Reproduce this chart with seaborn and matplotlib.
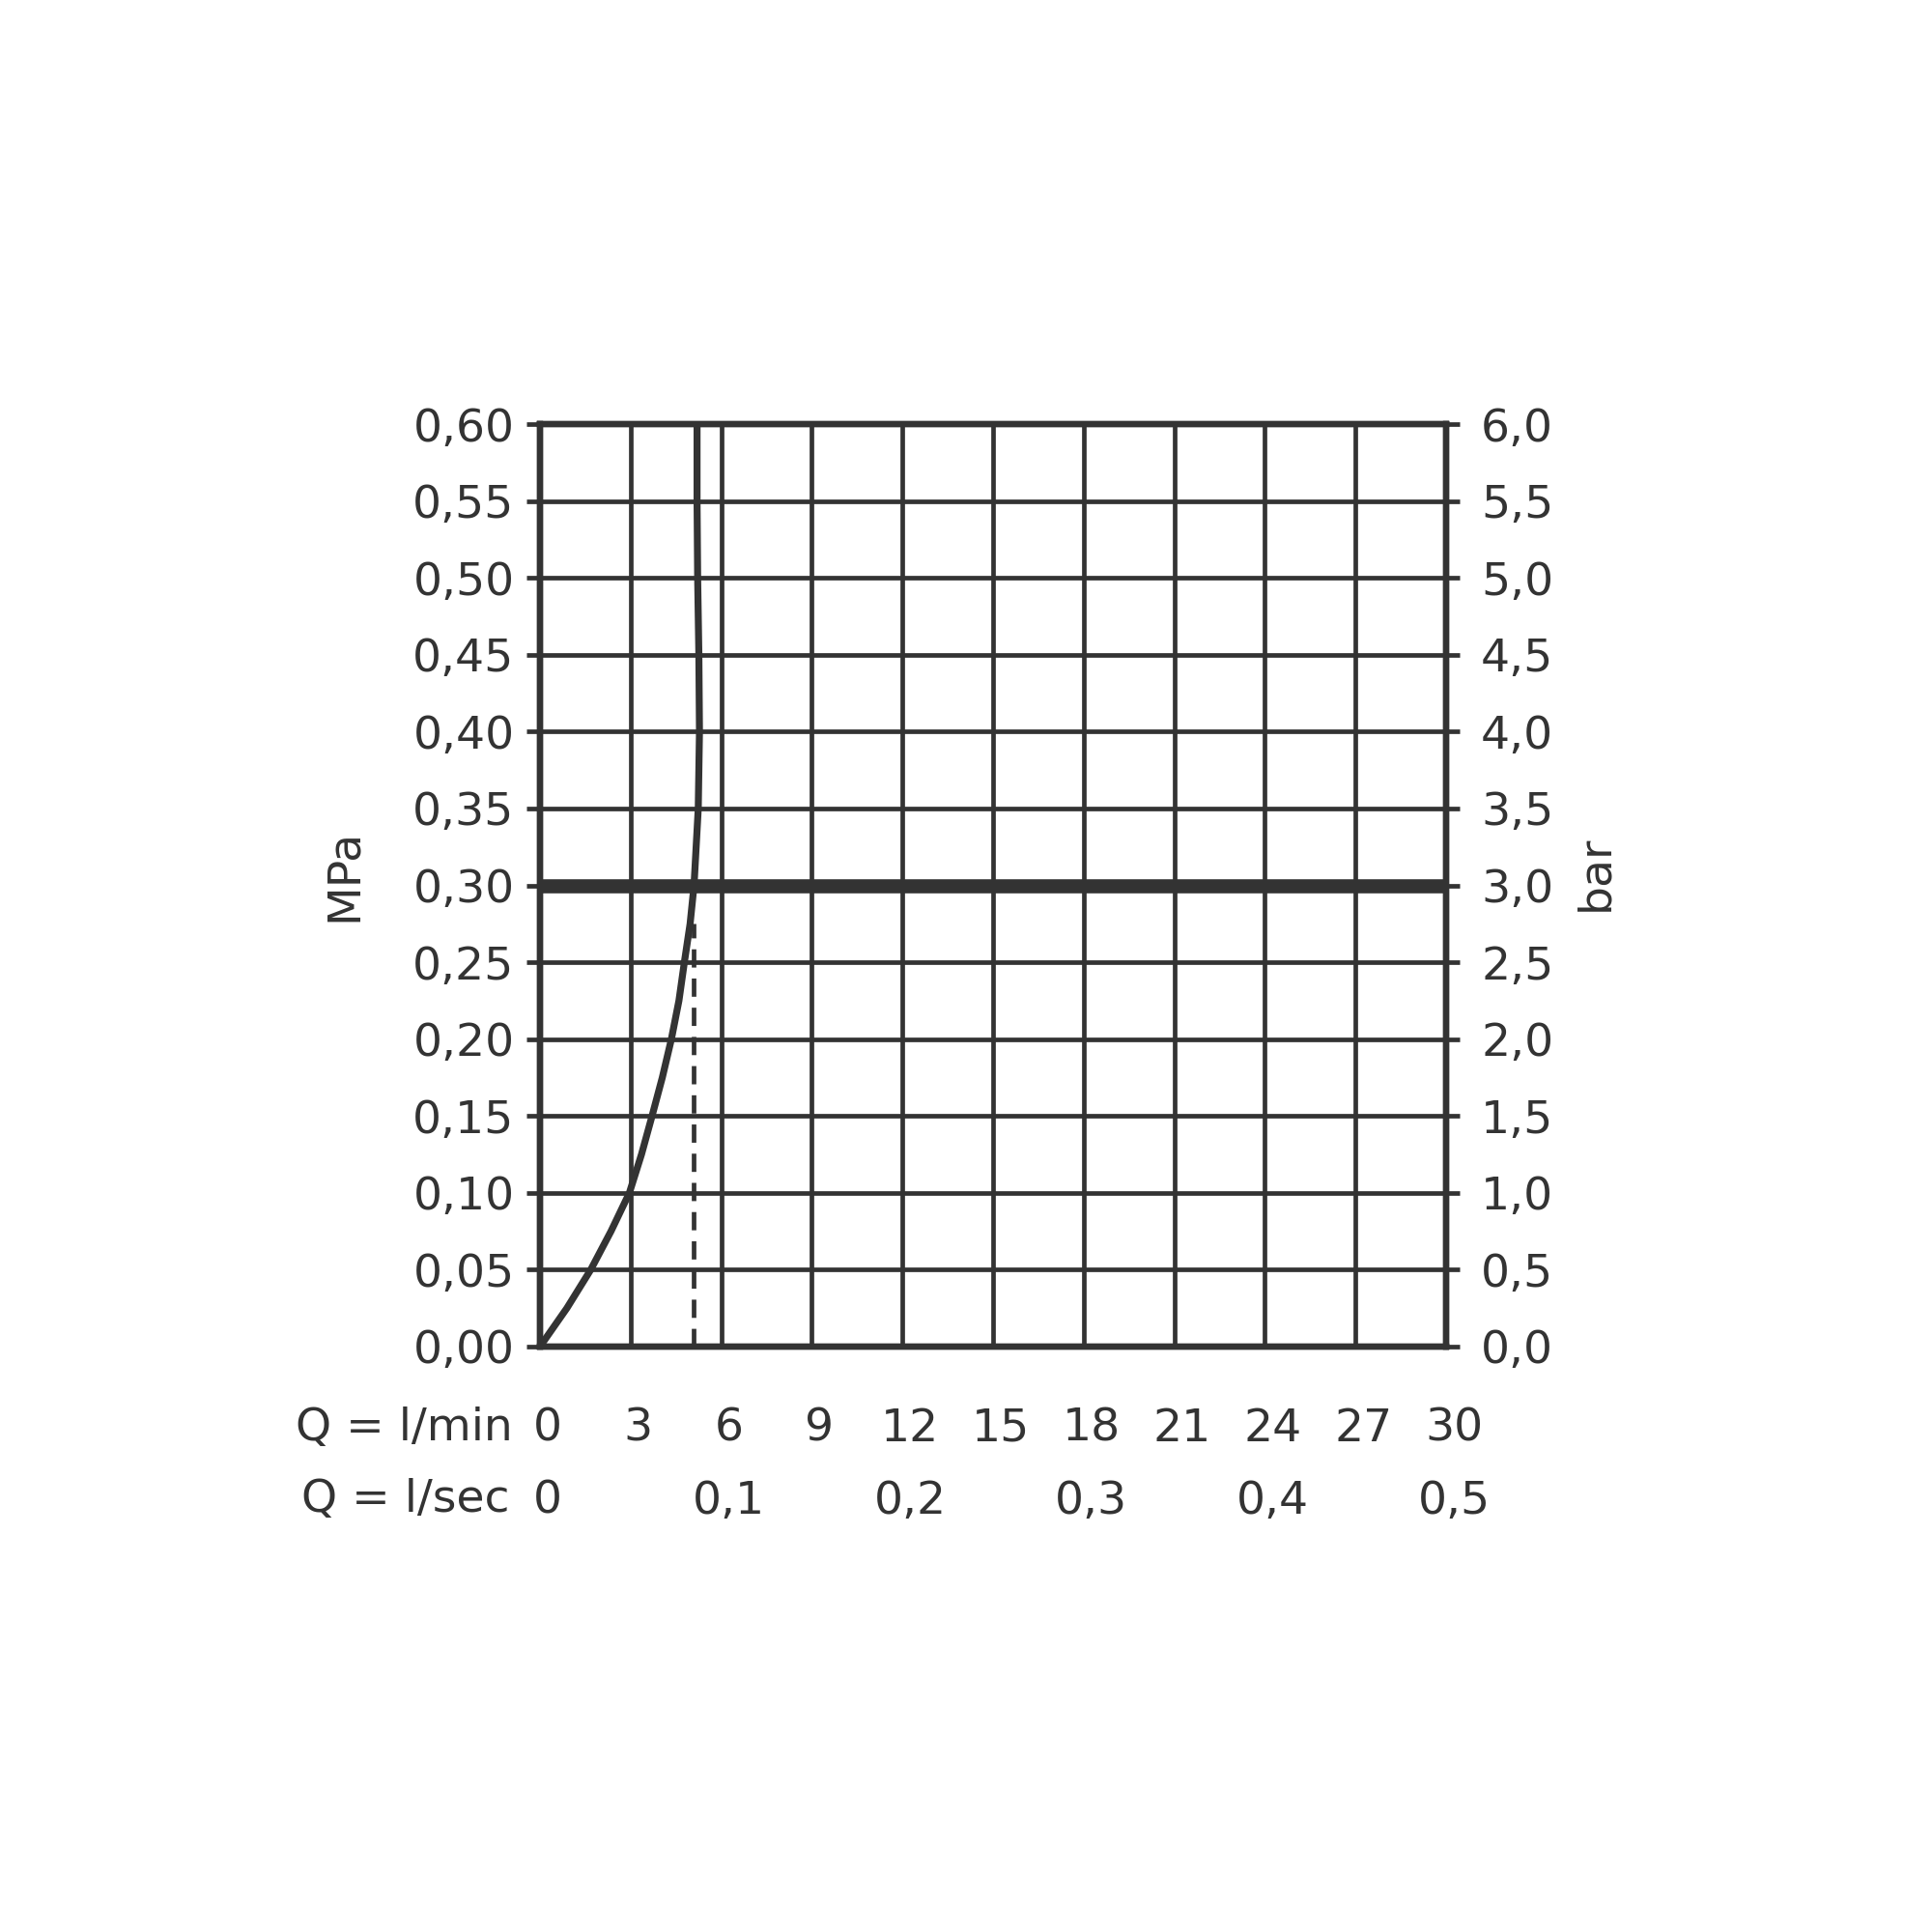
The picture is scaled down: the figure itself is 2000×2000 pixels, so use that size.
import matplotlib
matplotlib.use("Agg")
import matplotlib.pyplot as plt
import matplotlib.transforms as mtransforms
import seaborn as sns

# flow (l/min) vs pressure (MPa)
flow_lpm = [0, 0.89, 1.68, 2.35, 2.96, 3.36, 3.71, 4.05, 4.35, 4.60, 4.78, 4.97,
            5.10, 5.24, 5.28, 5.26, 5.22, 5.20, 5.20]
pressure_mpa = [0, 0.025, 0.05, 0.075, 0.10, 0.125, 0.15, 0.175, 0.20, 0.225, 0.25, 0.275,
                0.30, 0.35, 0.40, 0.45, 0.50, 0.55, 0.60]

dash_flow = 5.1          # dashed marker line
dash_top = 0.275
ref_pressure = 0.30      # thick reference line

lpm_ticks = [0, 3, 6, 9, 12, 15, 18, 21, 24, 27, 30]
lps_ticks = [0, 0.1, 0.2, 0.3, 0.4, 0.5]
lps_labels = ["0", "0,1", "0,2", "0,3", "0,4", "0,5"]
mpa_ticks = [i * 0.05 for i in range(13)]
mpa_labels = ["0,00", "0,05", "0,10", "0,15", "0,20", "0,25", "0,30",
              "0,35", "0,40", "0,45", "0,50", "0,55", "0,60"]
bar_ticks = [i * 0.5 for i in range(13)]
bar_labels = ["0,0", "0,5", "1,0", "1,5", "2,0", "2,5", "3,0",
              "3,5", "4,0", "4,5", "5,0", "5,5", "6,0"]

ink = "#333333"
fs = 34

sns.set_style("white")
plt.rcParams["font.family"] = ["DejaVu Sans"]
plt.rcParams["text.color"] = ink

fig = plt.figure(figsize=(20, 20), dpi=100)
ax = fig.add_axes([0.2795, 0.303, 0.469, 0.4775])

ax.set_xlim(0, 30)
ax.set_ylim(0, 0.60)
ax.set_xticks(lpm_ticks)
ax.set_xticklabels([str(t) for t in lpm_ticks])
ax.set_yticks(mpa_ticks)
ax.set_yticklabels(mpa_labels)
ax.grid(True, color=ink, lw=3.4)
ax.set_axisbelow(True)

for s in ax.spines.values():
    s.set_visible(True)
    s.set_color(ink)
    s.set_linewidth(4.6)

ax.tick_params(axis="y", direction="out", length=10, width=3.4, color=ink,
               labelsize=fs, labelcolor=ink, pad=9)
ax.tick_params(axis="x", direction="out", length=8, width=3.4, color=ink,
               labelsize=fs, labelcolor=ink, pad=37)

# thick reference line at 0.30 MPa
ax.axhline(ref_pressure, color=ink, lw=10.5, zorder=3)

# dashed vertical line
ax.vlines(dash_flow, 0, dash_top, colors=ink, lw=3.4, linestyles=(0, (4, 2.4)), zorder=4)

# flow curve
sns.lineplot(x=flow_lpm, y=pressure_mpa, ax=ax, sort=False, estimator=None,
             color=ink, lw=5.2, zorder=5)

ax.set_xlabel("")
ax.set_ylabel("MPa", fontsize=fs, color=ink, va="center")
ax.yaxis.set_label_coords(-0.2164, 0.511)

# second row of x labels in l/sec
sec = ax.secondary_xaxis("bottom", functions=(lambda x: x / 60, lambda x: x * 60))
sec.set_xticks(lps_ticks)
sec.set_xticklabels(lps_labels)
sec.tick_params(length=0, labelsize=fs, labelcolor=ink, pad=99)
sec.spines["bottom"].set_visible(False)

shift = mtransforms.ScaledTranslation(0.08, 0, fig.dpi_scale_trans)
for lab in ax.get_xticklabels() + sec.get_xticklabels():
    lab.set_transform(lab.get_transform() + shift)

ax.text(-0.030, -0.088, "Q = l/min", transform=ax.transAxes, ha="right", va="center",
        fontsize=fs, color=ink)
ax.text(-0.034, -0.166, "Q = l/sec", transform=ax.transAxes, ha="right", va="center",
        fontsize=fs, color=ink)

# right axis in bar
ax2 = ax.twinx()
ax2.set_ylim(0, 6)
ax2.set_yticks(bar_ticks)
ax2.set_yticklabels(bar_labels)
ax2.tick_params(axis="y", direction="out", length=10, width=3.4, color=ink,
                labelsize=fs, labelcolor=ink, pad=16)
for s in ax2.spines.values():
    s.set_color(ink)
    s.set_linewidth(4.6)
ax2.set_ylabel("bar", fontsize=fs, color=ink, rotation=90, va="center")
ax2.yaxis.set_label_coords(1.165, 0.513)

fig.savefig("out.png", dpi=100, facecolor="white")
